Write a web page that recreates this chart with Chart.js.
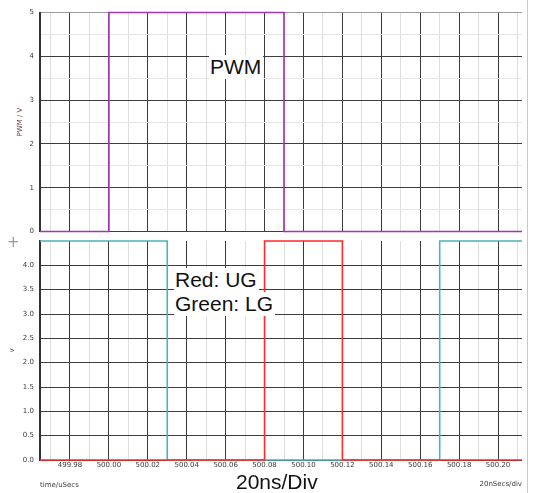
<!DOCTYPE html>
<html>
<head>
<meta charset="utf-8">
<title>PWM / UG / LG timing</title>
<script src="https://cdn.jsdelivr.net/npm/chart.js@4.4.1/dist/chart.umd.min.js"></script>
<style>
  html, body { margin: 0; padding: 0; background: #fff; }
  #wrap { position: relative; width: 533px; height: 493px; overflow: hidden; }
  canvas { position: absolute; left: 0; }
  #cTop { top: 0; }
  #cBot { top: 236px; }
  .edge { position: absolute; left: 527px; top: 0; width: 1px; height: 493px; background: #c9c9c9; }
  .note { position: absolute; font: 21px "Liberation Sans", Arial, sans-serif; line-height: 24px;
          color: #111; white-space: nowrap; }
  .boxed { background: #fff; padding: 0 2px 0 1px; }
  .small { position: absolute; font: 7px "DejaVu Sans", sans-serif; line-height: 9px; color: #3a3a3a; white-space: nowrap; }
  .plus { position: absolute; left: 7px; top: 233px; font: 15px "DejaVu Sans", sans-serif; line-height: 18px; color: #999; }
</style>
</head>
<body>
<div id="wrap">
  <canvas id="cTop" width="533" height="240"></canvas>
  <canvas id="cBot" width="533" height="257"></canvas>
  <div class="edge"></div>
  <div class="plus">+</div>
  <div class="note boxed" style="left:209px; top:55px;">PWM</div>
  <div class="note boxed" style="left:174px; top:268px;">Red: UG</div>
  <div class="note boxed" style="left:174px; top:292px;">Green: LG</div>
  <div class="note" style="left:236px; top:470px;">20ns/Div</div>
  <div class="small" style="right:11px; top:480px;">20nSecs/div</div>
</div>
<script>
// time window shown on both panels (µs)
const timeMin = 499.9646;
const timeMax = 500.2123;

// labelled time ticks (µs)
const timeTickLabels = ['499.98', '500.00', '500.02', '500.04', '500.06', '500.08',
                        '500.10', '500.12', '500.14', '500.16', '500.18', '500.20'];

// PWM input (V): level switches at each time
const pwmTimes  = [499.9646, 500.00, 500.09, 500.2123];
const pwmLevels = [0, 5, 0, 0];

// upper gate drive (V)
const ugTimes  = [499.9646, 500.08, 500.12, 500.2123];
const ugLevels = [0, 4.5, 0, 0];

// lower gate drive (V)
const lgTimes  = [499.9646, 500.03, 500.17, 500.2123];
const lgLevels = [4.5, 0, 4.5, 4.5];

const DARK = '#3c3c3c';
const LIGHT = '#dedede';
const tickFont = { family: 'DejaVu Sans', size: 7 };

function toPoints(times, levels) {
  return times.map((t, i) => ({ x: t, y: levels[i] }));
}

// grid every 10 ns, heavier line every 20 ns
function timeGridTicks(axis) {
  const ticks = [];
  for (let k = 49997; k <= 50021; k++) ticks.push({ value: k / 100 });
  axis.ticks = ticks;
}
function isMajorTime(v) {
  return Math.round(v * 100) % 2 === 0;
}
function timeLabel(v) {
  const hit = timeTickLabels.find(s => Math.abs(Number(s) - v) < 1e-6);
  return hit || '';
}

// keep the plot area exactly where the layout padding puts it
function fixHeight(h) {
  return s => { s.height = h; s.paddingLeft = 0; s.paddingRight = 0; };
}
function fixWidth(w) {
  return s => { s.width = w; s.paddingTop = 0; s.paddingBottom = 0; };
}

function timeAxis(showLabels) {
  return {
    type: 'linear',
    min: timeMin,
    max: timeMax,
    afterBuildTicks: timeGridTicks,
    afterFit: fixHeight(showLabels ? 33 : 0),
    border: { display: false },
    grid: {
      drawTicks: false,
      color: ctx => isMajorTime(ctx.tick.value) ? DARK : LIGHT,
      lineWidth: 1
    },
    ticks: {
      display: showLabels,
      autoSkip: false,
      maxRotation: 0,
      padding: 1,
      font: tickFont,
      color: '#3a3a3a',
      callback: v => timeLabel(v)
    },
    title: showLabels ? {
      display: true,
      text: 'time/uSecs',
      align: 'start',
      font: tickFont,
      color: '#3a3a3a',
      padding: { top: 0, bottom: 3.5 }
    } : { display: false }
  };
}

const common = {
  responsive: false,
  animation: false,
  devicePixelRatio: 1,
  events: [],
  plugins: { legend: { display: false }, tooltip: { enabled: false } }
};

// upper panel: PWM
new Chart(document.getElementById('cTop'), {
  type: 'line',
  data: {
    datasets: [{
      label: 'PWM',
      data: toPoints(pwmTimes, pwmLevels),
      stepped: true,
      borderColor: '#a335b5',
      borderWidth: 1.7,
      pointRadius: 0,
      fill: false,
      clip: 4
    }]
  },
  options: Object.assign({}, common, {
    layout: { padding: { top: 12.5, bottom: 8.5, left: 0, right: 11 } },
    scales: {
      x: timeAxis(false),
      y: {
        min: 0,
        max: 5,
        afterFit: fixWidth(40),
        border: { display: true, color: '#333', width: 2 },
        grid: {
          drawTicks: false,
          color: ctx => {
            const v = ctx.tick.value;
            if (v === 5) return '#9a9a9a';
            return Number.isInteger(v) ? DARK : '#e6e6e6';
          }
        },
        ticks: {
          stepSize: 0.5,
          padding: 6,
          font: tickFont,
          color: '#3a3a3a',
          callback: v => Number.isInteger(v) ? String(v) : ''
        },
        title: {
          display: true,
          text: 'PWM / V',
          font: tickFont,
          color: '#6b3838',
          padding: { top: 15.8, bottom: 0 }
        }
      }
    }
  })
});

// lower panel: gate drives
new Chart(document.getElementById('cBot'), {
  type: 'line',
  data: {
    datasets: [{
      label: 'UG',
      data: toPoints(ugTimes, ugLevels),
      stepped: true,
      borderColor: '#ff2a2a',
      borderWidth: 1.6,
      pointRadius: 0,
      fill: false,
      clip: 4
    }, {
      label: 'LG',
      data: toPoints(lgTimes, lgLevels),
      stepped: true,
      borderColor: '#4db3b3',
      borderWidth: 1.6,
      pointRadius: 0,
      fill: false,
      clip: 4
    }]
  },
  options: Object.assign({}, common, {
    layout: { padding: { top: 5, bottom: 0, left: 0, right: 11 } },
    scales: {
      x: timeAxis(true),
      y: {
        min: 0,
        max: 4.5,
        afterFit: fixWidth(40),
        border: { display: true, color: '#333', width: 2 },
        grid: {
          drawTicks: false,
          color: ctx => ctx.tick.value > 4.4 ? 'rgba(0,0,0,0)' : DARK
        },
        ticks: {
          stepSize: 0.5,
          padding: 6,
          font: tickFont,
          color: '#3a3a3a',
          callback: v => v > 4.4 ? '' : v.toFixed(1)
        },
        title: {
          display: true,
          text: 'v',
          font: tickFont,
          color: '#3a3a3a',
          padding: { top: 7.8, bottom: 0 }
        }
      }
    }
  })
});
</script>
</body>
</html>
